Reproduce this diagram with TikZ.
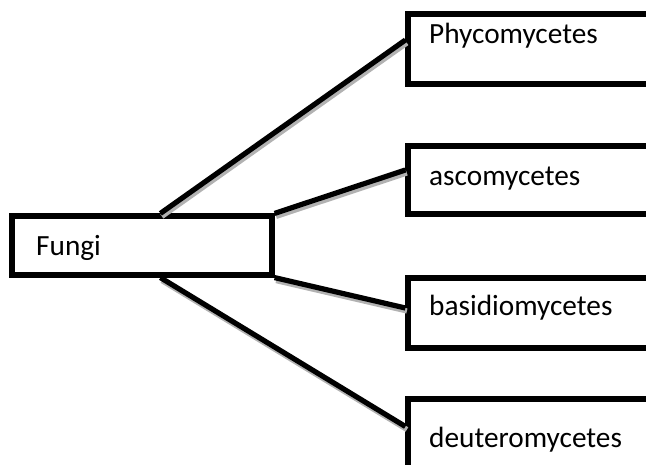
\documentclass[tikz,border=0pt]{standalone}
\usepackage{fontspec}
\setmainfont{Carlito}
\usetikzlibrary{calc}

\begin{document}
\begin{tikzpicture}[x=1pt, y=-1pt, font=\fontsize{29.3}{34}\selectfont,
		box/.style={draw, line width=5.2pt, fill=white, rectangle, inner sep=0pt},
		tag/.style={inner sep=0pt, anchor=base west},
		link/.style={line width=5.2pt, preaction={draw=gray!60, line width=5.2pt, transform canvas={xshift=1.5pt, yshift=-3pt}}}]
		\useasboundingbox (0,0) rectangle (646,464);
		\clip (0,0) rectangle (646,464);
		% groups (boxes run past the right edge)
		\node[box, minimum width=260, minimum height=59] (fungi) at (142,245.5) {};
		\node[box, minimum width=300, minimum height=70] (phy) at (558,49) {};
		\node[box, minimum width=300, minimum height=68] (asc) at (558,180) {};
		\node[box, minimum width=300, minimum height=70] (bas) at (558,313) {};
		\node[box, minimum width=300, minimum height=71] (deu) at (558,434.5) {};
		% labels
		\node[tag] (fungit) at (36,255) {Fungi};
		\node[tag] (phyt) at (429,43) {Phycomycetes};
		\node[tag] (asct) at (429,185) {ascomycetes};
		\node[tag] (bast) at (429,315) {basidiomycetes};
		\node[tag] (deut) at (429,447) {deuteromycetes};
		% branches
		\draw[link] ($(fungi.north west)+(151,0)$) -- ($(phy.west)+(0,-9)$);
		\draw[link] (fungi.north east) -- ($(asc.west)+(0,-10)$);
		\draw[link] (fungi.south east) -- ($(bas.west)+(0,-5)$);
		\draw[link] ($(fungi.south west)+(151,0)$) -- ($(deu.west)+(0,-8)$);
	\end{tikzpicture}
\end{document}
